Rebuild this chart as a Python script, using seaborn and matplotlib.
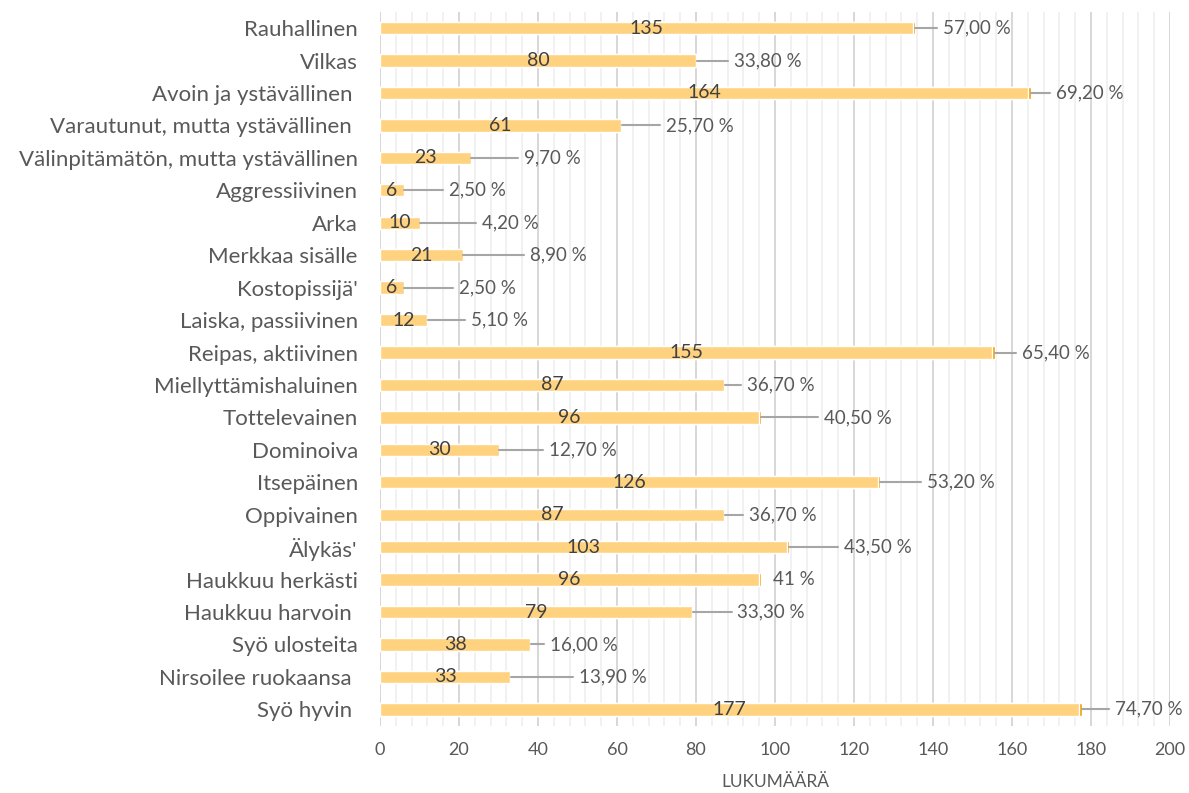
import pandas as pd
import seaborn as sns
import matplotlib.pyplot as plt
from matplotlib.ticker import MultipleLocator

# Data
categories = ['Rauhallinen', 'Vilkas', 'Avoin ja ystävällinen ', 'Varautunut, mutta ystävällinen ',
              'Välinpitämätön, mutta ystävällinen', 'Aggressiivinen', 'Arka', 'Merkkaa sisälle',
              "Kostopissijä'", 'Laiska, passiivinen', 'Reipas, aktiivinen', 'Miellyttämishaluinen',
              'Tottelevainen', 'Dominoiva', 'Itsepäinen', 'Oppivainen', "Älykäs'", 'Haukkuu herkästi',
              'Haukkuu harvoin ', 'Syö ulosteita', 'Nirsoilee ruokaansa ', 'Syö hyvin ']
counts = [135, 80, 164, 61, 23, 6, 10, 21, 6, 12, 155, 87, 96, 30, 126, 87, 103, 96, 79, 38, 33, 177]
pct = [57.0, 33.8, 69.2, 25.7, 9.7, 2.5, 4.2, 8.9, 2.5, 5.1, 65.4, 36.7, 40.5, 12.7, 53.2, 36.7,
       43.5, 41.0, 33.3, 16.0, 13.9, 74.7]
pct_labels = ['57,00\u202f%', '33,80\u202f%', '69,20\u202f%', '25,70\u202f%', '9,70\u202f%',
              '2,50\u202f%', '4,20\u202f%', '8,90\u202f%', '2,50\u202f%', '5,10\u202f%',
              '65,40\u202f%', '36,70\u202f%', '40,50\u202f%', '12,70\u202f%', '53,20\u202f%',
              '36,70\u202f%', '43,50\u202f%', '41\u202f%', '33,30\u202f%', '16,00\u202f%',
              '13,90\u202f%', '74,70\u202f%']
# where the (manually moved) percent labels sit
label_x = [141, 88, 169.6, 71, 35, 16, 24.3, 36.5, 18.5, 21.5, 161, 91.4, 111, 41.3, 137, 92,
           116, 98, 89, 41.5, 48.8, 184.6]

df = pd.DataFrame({'ominaisuus': categories, 'lukumaara': counts,
                   'osuus': [p / 100 for p in pct]})
df['yhteensa'] = df['lukumaara'] + df['osuus']

sns.set_style('whitegrid')
plt.rcParams['font.family'] = ['Lato', 'DejaVu Sans']
txt = '#595959'

fig, ax = plt.subplots(figsize=(11.89, 7.93), dpi=100)
fig.subplots_adjust(left=0.3196, right=0.984, top=0.985, bottom=0.085)

# stacked: proportion segment (dark orange) behind the count bar
sns.barplot(data=df, x='yhteensa', y='ominaisuus', color='#F0A000', width=0.38,
            saturation=1, errorbar=None, ax=ax)
sns.barplot(data=df, x='lukumaara', y='ominaisuus', color='#FFD280', width=0.38,
            saturation=1, errorbar=None, ax=ax)

for i, (c, p, lab, lx) in enumerate(zip(counts, pct, pct_labels, label_x)):
    ax.text(c / 2, i, str(c), ha='center', va='center', fontsize=14, color='#404040')
    end = c + p / 100
    if lx - end > 2.5:
        ax.plot([end, lx], [i, i], color='#A6A6A6', lw=1.5, zorder=3)
    ax.text(lx + 1.5, i, lab, ha='left', va='center', fontsize=13.5, color=txt)

ax.set_xlim(0, 200)
ax.set_ylim(21.5, -0.5)
ax.xaxis.set_major_locator(MultipleLocator(20))
ax.xaxis.set_minor_locator(MultipleLocator(4))
ax.grid(False)
ax.grid(which='major', axis='x', color='#D4D4D4', lw=1.3)
ax.grid(which='minor', axis='x', color='#EEEEEE', lw=1.1)
ax.set_axisbelow(True)
for s in ax.spines.values():
    s.set_visible(False)

ax.tick_params(axis='x', which='both', length=0, pad=12, labelsize=13, labelcolor=txt)
ax.tick_params(axis='y', length=0, pad=16, labelsize=16, labelcolor=txt)
ax.set_ylabel('')
ax.set_xlabel('LUKUMÄÄRÄ', fontsize=12.5, color=txt, labelpad=11)

fig.savefig('out.png', dpi=100)
